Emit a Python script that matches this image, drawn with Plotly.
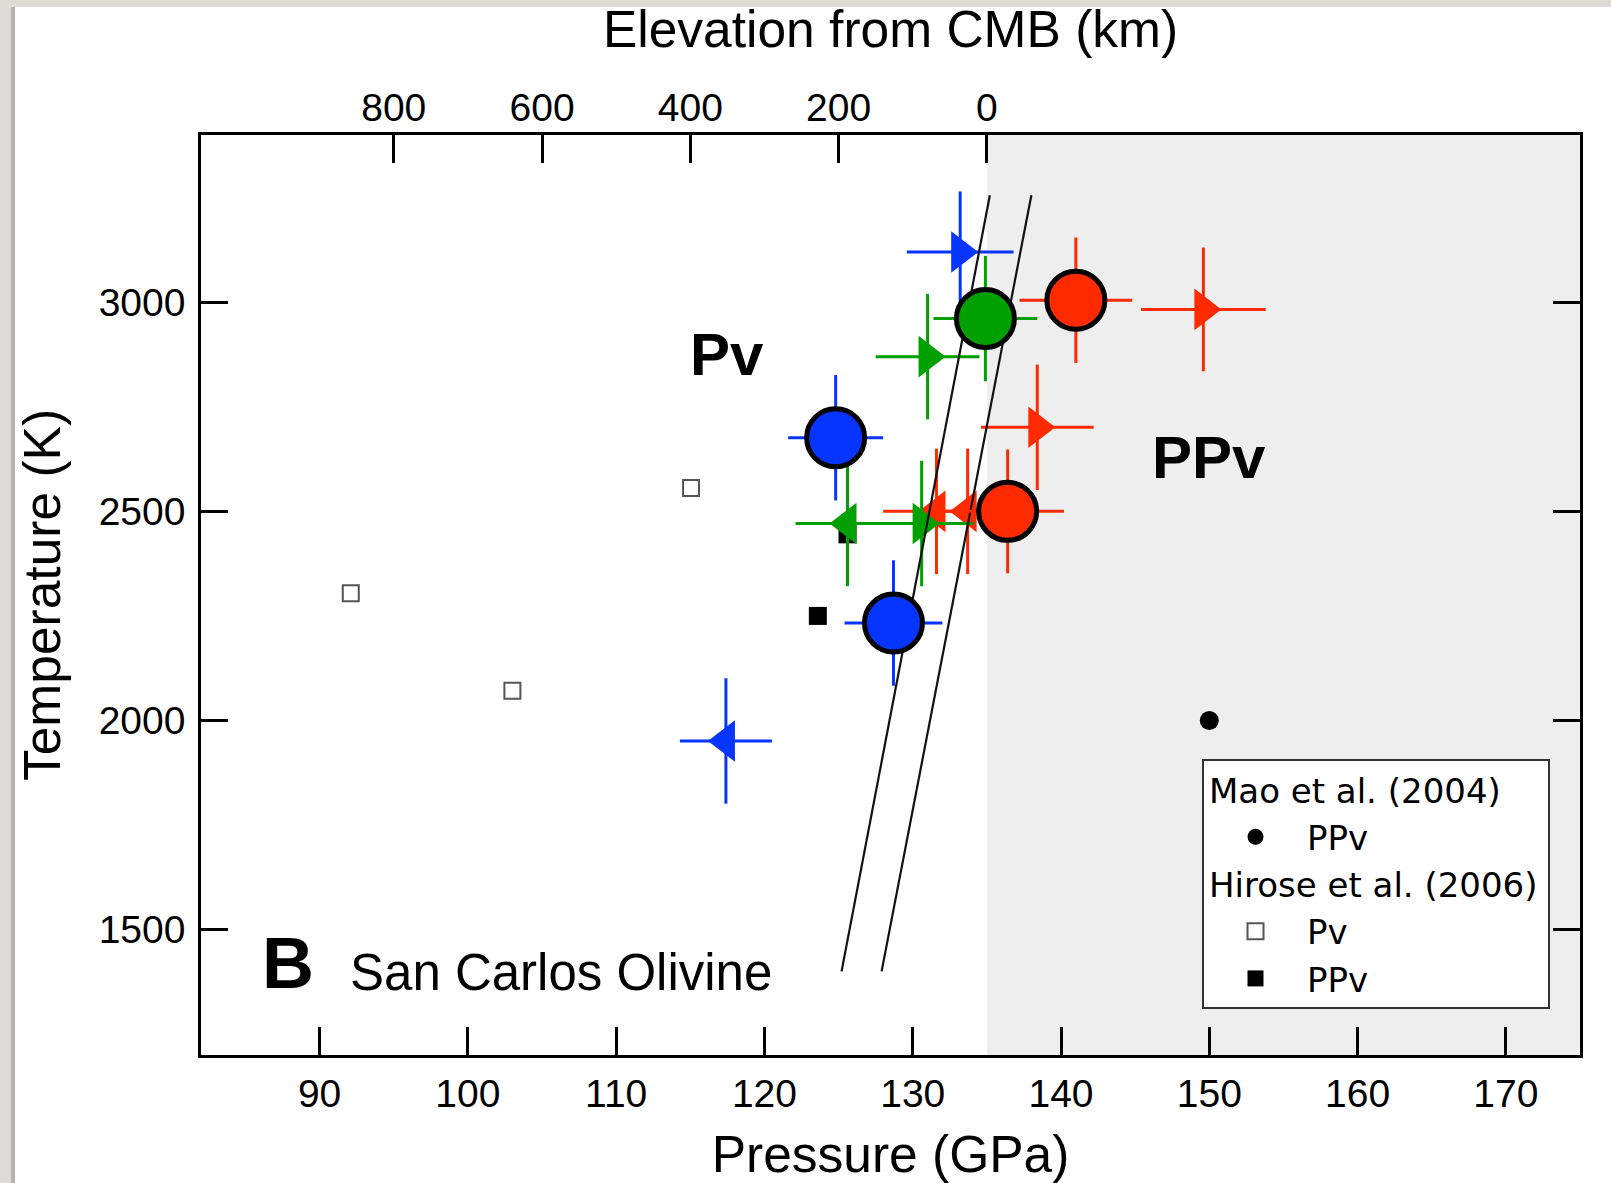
import plotly.graph_objects as go

# ---------------- data ----------------
# large circles (this study)
blue_circ_P = [124.8, 128.7]
blue_circ_T = [2676, 2233]
blue_circ_Perr = [3.2, 3.3]
blue_circ_Terr = [150, 150]

green_circ_P = [134.9]
green_circ_T = [2961]
green_circ_Perr = [3.5]
green_circ_Terr = [150]

red_circ_P = [141.0, 136.4]
red_circ_T = [3005, 2500]
red_circ_Perr = [3.8, 3.8]
red_circ_Terr = [150, 148]

# triangles
blue_tri_r_P = [133.2]
blue_tri_r_T = [3120]
blue_tri_r_Perr = [3.6]
blue_tri_r_Terr = [145]

blue_tri_l_P = [117.4]
blue_tri_l_T = [1951]
blue_tri_l_Perr = [3.1]
blue_tri_l_Terr = [150]

green_tri_r_P = [131.0, 130.6]
green_tri_r_T = [2870, 2471]
green_tri_r_Perr = [3.5, 3.5]
green_tri_r_Terr = [150, 150]

green_tri_l_P = [125.6]
green_tri_l_T = [2471]
green_tri_l_Perr = [3.5]
green_tri_l_Terr = [150]

red_tri_r_P = [149.6, 138.4]
red_tri_r_T = [2983, 2701]
red_tri_r_Perr = [4.2, 3.8]
red_tri_r_Terr = [148, 150]

red_tri_l_P = [131.6, 133.7]
red_tri_l_T = [2500, 2500]
red_tri_l_Perr = [3.6, 3.6]
red_tri_l_Terr = [150, 150]

# literature
mao_ppv_P = [150.0]
mao_ppv_T = [2000]
hirose_pv_P = [92.1, 103.0, 115.05]
hirose_pv_T = [2304, 2071, 2556]
hirose_ppv_P = [123.6, 125.6]
hirose_ppv_T = [2250, 2445]

# phase boundary lines
bound1_P = [125.2, 135.2]
bound1_T = [1400, 3256]
bound2_P = [127.9, 138.0]
bound2_T = [1400, 3256]

# axes
x_range = [82, 175]
y_range = [1200, 3400]
x_ticks = [90, 100, 110, 120, 130, 140, 150, 160, 170]
y_ticks = [1500, 2000, 2500, 3000]
cmb_pressure = 135.0
gpa_per_km = 0.05
elev_ticks = [0, 200, 400, 600, 800]

BLUE = "#0535ff"
GREEN = "#00a000"
RED = "#ff2a00"

W, H = 1611, 1183
ML, MR, MT, MB = 201, 31, 135, 128

fig = go.Figure()


def add_pts(P, T, Perr, Terr, color, symbol, size, line_w=0, line_c=None):
    fig.add_trace(go.Scatter(
        x=P, y=T, mode="markers", showlegend=False, hoverinfo="x+y",
        marker=dict(symbol=symbol, size=size, color=color,
                    line=dict(width=line_w, color=line_c or color)),
        error_x=dict(type="data", array=Perr, color=color, thickness=3, width=0),
        error_y=dict(type="data", array=Terr, color=color, thickness=3, width=0),
    ))


# literature data (legend)
fig.add_trace(go.Scatter(
    x=mao_ppv_P, y=mao_ppv_T, mode="markers", name="PPv",
    legendgroup="mao", legendgrouptitle=dict(text="Mao et al. (2004)"),
    marker=dict(symbol="circle", size=19, color="black"),
))
fig.add_trace(go.Scatter(
    x=hirose_pv_P, y=hirose_pv_T, mode="markers", name="Pv",
    legendgroup="hirose", legendgrouptitle=dict(text="Hirose et al. (2006)"),
    marker=dict(symbol="square", size=16, color="white", line=dict(width=2, color="#555555")),
))
fig.add_trace(go.Scatter(
    x=hirose_ppv_P, y=hirose_ppv_T, mode="markers", name="PPv",
    legendgroup="hirose",
    marker=dict(symbol="square", size=18, color="black", line=dict(width=0)),
))

# triangles
TS = 36
add_pts(blue_tri_l_P, blue_tri_l_T, blue_tri_l_Perr, blue_tri_l_Terr, BLUE, "triangle-left", TS)
add_pts(green_tri_l_P, green_tri_l_T, green_tri_l_Perr, green_tri_l_Terr, GREEN, "triangle-left", TS)
add_pts(red_tri_l_P, red_tri_l_T, red_tri_l_Perr, red_tri_l_Terr, RED, "triangle-left", TS)
add_pts(red_tri_r_P, red_tri_r_T, red_tri_r_Perr, red_tri_r_Terr, RED, "triangle-right", TS)
add_pts(green_tri_r_P, green_tri_r_T, green_tri_r_Perr, green_tri_r_Terr, GREEN, "triangle-right", TS)
add_pts(blue_tri_r_P, blue_tri_r_T, blue_tri_r_Perr, blue_tri_r_Terr, BLUE, "triangle-right", TS)

# phase boundaries
for bp, bt in ((bound1_P, bound1_T), (bound2_P, bound2_T)):
    fig.add_trace(go.Scatter(x=bp, y=bt, mode="lines", showlegend=False,
                             hoverinfo="skip", line=dict(color="#111111", width=2.2)))

# circles
CS = 58
add_pts(blue_circ_P, blue_circ_T, blue_circ_Perr, blue_circ_Terr, BLUE, "circle", CS, 5, "black")
add_pts(green_circ_P, green_circ_T, green_circ_Perr, green_circ_Terr, GREEN, "circle", CS, 5, "black")
add_pts(red_circ_P, red_circ_T, red_circ_Perr, red_circ_Terr, RED, "circle", CS, 5, "black")

# dummy trace for top axis
fig.add_trace(go.Scatter(x=[], y=[], xaxis="x2", showlegend=False, hoverinfo="skip"))

# shaded PPv region
fig.add_shape(type="rect", xref="x", yref="paper", x0=cmb_pressure, x1=x_range[1],
              y0=0, y1=1, fillcolor="#eeeeee", line=dict(width=0), layer="below")

# outer page border (gray strips)
pw = W - ML - MR
ph = H - MT - MB
def px2x(px):
    return (px - ML) / pw
def py2y(py):
    return (H - MB - py) / ph
BORDER = "#dcdbd6"
fig.add_shape(type="rect", xref="paper", yref="paper", x0=px2x(0), x1=px2x(15),
              y0=py2y(H), y1=py2y(0), fillcolor=BORDER, line=dict(width=0), layer="below")
fig.add_shape(type="rect", xref="paper", yref="paper", x0=px2x(11), x1=px2x(15),
              y0=py2y(H), y1=py2y(7), fillcolor="#b5b4b0", line=dict(width=0), layer="below")
fig.add_shape(type="rect", xref="paper", yref="paper", x0=px2x(0), x1=px2x(W),
              y0=py2y(7), y1=py2y(0), fillcolor=BORDER, line=dict(width=0), layer="below")

# annotations
fig.add_annotation(x=117.5, y=2875, text="<b>Pv</b>", showarrow=False,
                   font=dict(size=60, family="Liberation Sans, Arial", color="black"))
fig.add_annotation(x=150.0, y=2630, text="<b>PPv</b>", showarrow=False,
                   font=dict(size=60, family="Liberation Sans, Arial", color="black"))
fig.add_annotation(x=86.0, y=1420, text="<b>B</b>", showarrow=False, xanchor="left",
                   font=dict(size=72, family="Liberation Sans, Arial", color="black"))
fig.add_annotation(x=91.9, y=1398, text="San Carlos Olivine", showarrow=False, xanchor="left",
                   font=dict(size=51, family="Liberation Sans, Arial", color="black"))

AX_FONT = dict(family="Liberation Sans, Arial", size=39, color="black")
TITLE_FONT = dict(family="Liberation Sans, Arial", size=51.5, color="black")

km_range = [(cmb_pressure - x_range[0]) / gpa_per_km, (cmb_pressure - x_range[1]) / gpa_per_km]

fig.update_layout(
    width=W, height=H,
    margin=dict(l=ML, r=MR, t=MT, b=MB, autoexpand=False),
    paper_bgcolor="white", plot_bgcolor="rgba(0,0,0,0)",
    xaxis=dict(range=x_range, tickvals=x_ticks, ticks="inside", ticklen=28, tickwidth=2.5,
               tickcolor="black", showline=True, linecolor="black", linewidth=2.5,
               showgrid=False, zeroline=False, mirror=False, tickfont=AX_FONT,
               ticklabelstandoff=2,
               title=dict(text="Pressure (GPa)", font=TITLE_FONT, standoff=28)),
    xaxis2=dict(range=km_range, overlaying="x", side="top", anchor="y", tickvals=elev_ticks,
                ticks="inside", ticklen=28, tickwidth=2.5, tickcolor="black", showline=True,
                linecolor="black", linewidth=2.5, showgrid=False, zeroline=False,
                tickfont=AX_FONT, ticklabelstandoff=-4,
                title=dict(text="Elevation from CMB (km)", font=TITLE_FONT, standoff=22)),
    yaxis=dict(range=y_range, tickvals=y_ticks, ticks="inside", ticklen=27, tickwidth=2.5,
               tickcolor="black", showline=True, linecolor="black", linewidth=2.5,
               mirror="ticks", showgrid=False, zeroline=False, tickfont=AX_FONT,
               ticklabelstandoff=5,
               title=dict(text="Temperature (K)", font=TITLE_FONT, standoff=22)),
    legend=dict(x=px2x(1202), y=py2y(759), xanchor="left", yanchor="top",
                bgcolor="white", bordercolor="#333333", borderwidth=2,
                font=dict(family="DejaVu Sans", size=34, color="black"),
                grouptitlefont=dict(family="DejaVu Sans", size=34, color="black"),
                itemwidth=93, tracegroupgap=0, traceorder="grouped"),
    showlegend=True,
)

fig.write_html("out.html")
